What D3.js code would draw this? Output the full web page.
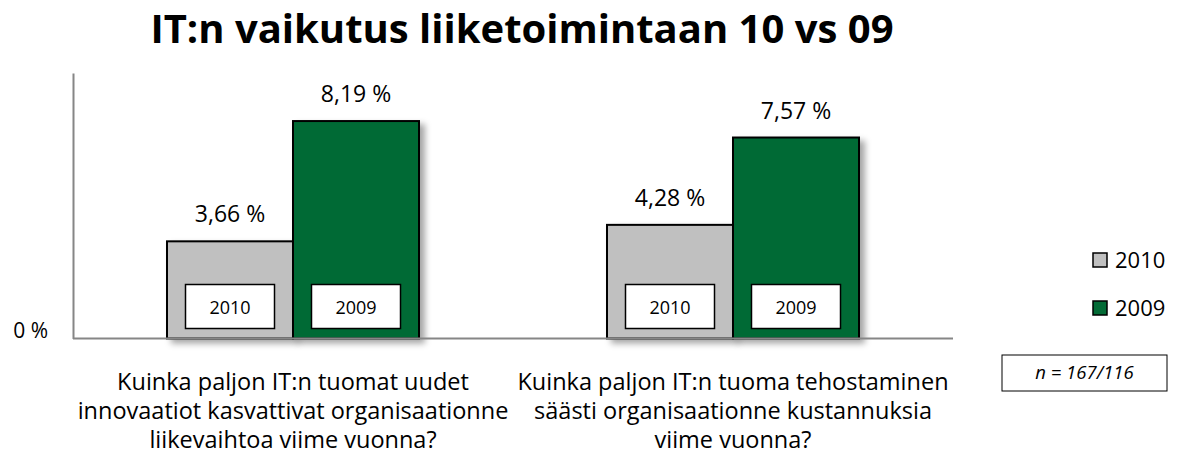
<!DOCTYPE html>
<html>
<head>
<meta charset="utf-8">
<script src="https://cdn.jsdelivr.net/npm/d3@7"></script>
<style>
  body { margin: 0; background: #fff; }
  text { font-family: "Open Sans", Lato, sans-serif; fill: #000; }
</style>
</head>
<body>
<div id="vis_container"></div>
<script>
// chart data
var categories = [
	["Kuinka paljon IT:n tuomat uudet", "innovaatiot kasvattivat organisaationne", "liikevaihtoa viime vuonna?"],
	["Kuinka paljon IT:n tuoma tehostaminen", "säästi organisaationne kustannuksia", "viime vuonna?"]
];
var seriesNames = ["2010", "2009"];
var values2010 = [3.66, 4.28];
var values2009 = [8.19, 7.57];
var yTicks = [0];
var sampleNote = "n = 167/116";
var titleText = "IT:n vaikutus liiketoimintaan 10 vs 09";

var chart = {};
chart.width = 1177;
chart.height = 458;
chart.margin = {"top": 73, "left": 73, "right": 224, "bottom": 119.5};
chart.colors = {"2010": "#c0c0c0", "2009": "#036b36"};

var svg = d3.select("#vis_container").append("svg")
	.attr("width", chart.width)
	.attr("height", chart.height);

// soft drop shadow for the bars
var shadow = svg.append("defs").append("filter")
	.attr("id", "shadow")
	.attr("x", "-20%").attr("y", "-20%")
	.attr("width", "140%").attr("height", "140%");
shadow.append("feDropShadow")
	.attr("dx", 5).attr("dy", 4)
	.attr("stdDeviation", 3)
	.attr("flood-color", "#000")
	.attr("flood-opacity", 0.35);

var x0 = d3.scaleBand()
	.domain(d3.range(categories.length))
	.range([chart.margin.left, chart.width - chart.margin.right])
	.padding(0);

var groupW = 252;
var x1 = d3.scaleBand()
	.domain(seriesNames)
	.range([(x0.bandwidth() - groupW) / 2, (x0.bandwidth() + groupW) / 2])
	.padding(0);

var y = d3.scaleLinear()
	.domain([0, 10])
	.range([chart.height - chart.margin.bottom, chart.margin.top]);

var rows = d3.range(categories.length).map(function(i) {
	return [
		{series: "2010", value: values2010[i], cat: i},
		{series: "2009", value: values2009[i], cat: i}
	];
});

// title
svg.append("text")
	.attr("x", 522)
	.attr("y", 43)
	.attr("text-anchor", "middle")
	.style("font-size", "40px")
	.style("font-weight", "bold")
	.text(titleText);

// bars
var groups = svg.selectAll(".group")
	.data(rows)
	.enter()
	.append("g")
		.attr("class", "group")
		.attr("transform", function(d, i) { return "translate(" + x0(i) + ",0)"; });

groups.selectAll("rect.bar")
	.data(function(d) { return d; })
	.enter()
	.append("rect")
		.attr("class", "bar")
		.attr("x", function(d) { return x1(d.series); })
		.attr("y", function(d) { return y(d.value); })
		.attr("width", x1.bandwidth())
		.attr("height", function(d) { return y(0) - y(d.value); })
		.attr("fill", function(d) { return chart.colors[d.series]; })
		.attr("stroke", "#000")
		.attr("stroke-width", 2)
		.attr("filter", "url(#shadow)");

// value labels
groups.selectAll("text.value")
	.data(function(d) { return d; })
	.enter()
	.append("text")
		.attr("class", "value")
		.attr("x", function(d) { return x1(d.series) + x1.bandwidth() / 2; })
		.attr("y", function(d) { return y(d.value) - 19; })
		.attr("text-anchor", "middle")
		.style("font-size", "23px")
		.text(function(d) { return d3.format(".2f")(d.value).replace(".", ",") + " %"; });

// year boxes inside the bars
var boxW = 89, boxH = 44;
var boxes = groups.selectAll("g.yearbox")
	.data(function(d) { return d; })
	.enter()
	.append("g")
		.attr("class", "yearbox")
		.attr("transform", function(d) {
			return "translate(" + (x1(d.series) + x1.bandwidth() / 2 - boxW / 2) + "," + (y(0) - 54) + ")";
		});
boxes.append("rect")
	.attr("width", boxW)
	.attr("height", boxH)
	.attr("fill", "#fff")
	.attr("stroke", "#000")
	.attr("stroke-width", 1.5);
boxes.append("text")
	.attr("x", boxW / 2)
	.attr("y", boxH / 2 + 7)
	.attr("text-anchor", "middle")
	.style("font-size", "18px")
	.text(function(d) { return d.series; });

// axes
var yAxis = svg.append("g")
	.attr("transform", "translate(" + chart.margin.left + ",0)")
	.call(d3.axisLeft(y).tickValues(yTicks).tickSize(0).tickPadding(25)
		.tickFormat(function(d) { return d + " %"; }));
yAxis.select(".domain").attr("stroke", "#868686").attr("stroke-width", 2);
yAxis.selectAll(".tick text")
	.style("font-size", "21px")
	.style("font-family", "'Open Sans', sans-serif")
	.attr("dy", "-0.07em");

svg.append("line")
	.attr("x1", chart.margin.left)
	.attr("x2", chart.width - chart.margin.right)
	.attr("y1", y(0))
	.attr("y2", y(0))
	.attr("stroke", "#868686")
	.attr("stroke-width", 2);

// category labels
var catLabels = svg.selectAll(".catlabel")
	.data(categories)
	.enter()
	.append("text")
		.attr("class", "catlabel")
		.attr("text-anchor", "middle")
		.style("font-size", "23.5px")
		.attr("transform", function(d, i) { return "translate(" + (x0(i) + x0.bandwidth() / 2) + "," + 390 + ")"; });
catLabels.selectAll("tspan")
	.data(function(d) { return d; })
	.enter()
	.append("tspan")
		.attr("x", 0)
		.attr("y", function(d, i) { return i * 29; })
		.text(function(d) { return d; });

// legend
var legend = svg.selectAll(".legend")
	.data(seriesNames)
	.enter()
	.append("g")
		.attr("class", "legend")
		.attr("transform", function(d, i) { return "translate(1093," + (253 + i * 48) + ")"; });
legend.append("rect")
	.attr("width", 14)
	.attr("height", 14)
	.attr("fill", function(d) { return chart.colors[d]; })
	.attr("stroke", "#000")
	.attr("stroke-width", 1.5);
legend.append("text")
	.attr("x", 22)
	.attr("y", 15)
	.style("font-size", "22px")
	.text(function(d) { return d; });

// sample size note
var note = svg.append("g").attr("transform", "translate(1002,355)");
note.append("rect")
	.attr("width", 165)
	.attr("height", 36)
	.attr("fill", "#fff")
	.attr("stroke", "#000")
	.attr("stroke-width", 1);
note.append("text")
	.attr("x", 82.5)
	.attr("y", 24)
	.attr("text-anchor", "middle")
	.style("font-size", "18.5px")
	.style("font-style", "italic")
	.text(sampleNote);
</script>
</body>
</html>
